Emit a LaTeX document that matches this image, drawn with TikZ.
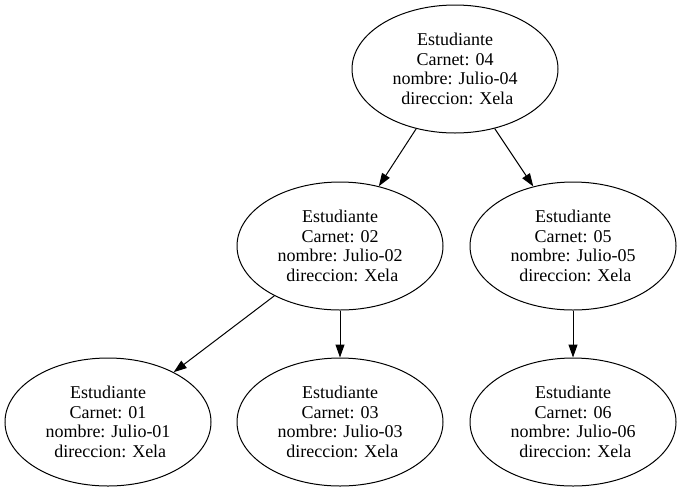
\documentclass[tikz,border=0pt]{standalone}
\usepackage{fontspec}
\setmainfont{Liberation Serif}
\usetikzlibrary{shapes.geometric,arrows.meta}

\begin{document}
\begin{tikzpicture}[x=1pt,y=-1pt,line width=1pt,
	estudiante/.style={ellipse,draw,minimum width=206pt,minimum height=128pt,inner sep=0pt,
		align=center,font=\fontsize{18pt}{19.5pt}\selectfont},
	enlace/.style={-{Triangle[length=13pt,width=9pt]}}]
	\useasboundingbox (0,0) rectangle (682,491);
	\node[estudiante] (e04) at (455,69) {Estudiante\\Carnet: 04\\nombre: Julio-04\\\ direccion: Xela};
	\node[estudiante] (e02) at (340,246) {Estudiante\\Carnet: 02\\nombre: Julio-02\\\ direccion: Xela};
	\node[estudiante] (e05) at (573,246) {Estudiante\\Carnet: 05\\nombre: Julio-05\\\ direccion: Xela};
	\node[estudiante] (e01) at (108,422) {Estudiante\\Carnet: 01\\nombre: Julio-01\\\ direccion: Xela};
	\node[estudiante] (e03) at (340,422) {Estudiante\\Carnet: 03\\nombre: Julio-03\\\ direccion: Xela};
	\node[estudiante] (e06) at (573,422) {Estudiante\\Carnet: 06\\nombre: Julio-06\\\ direccion: Xela};
	\draw[enlace] (e04) -- (e02);
	\draw[enlace] (e04) -- (e05);
	\draw[enlace] (e02) -- (e01);
	\draw[enlace] (e02) -- (e03);
	\draw[enlace] (e05) -- (e06);
\end{tikzpicture}
\end{document}
